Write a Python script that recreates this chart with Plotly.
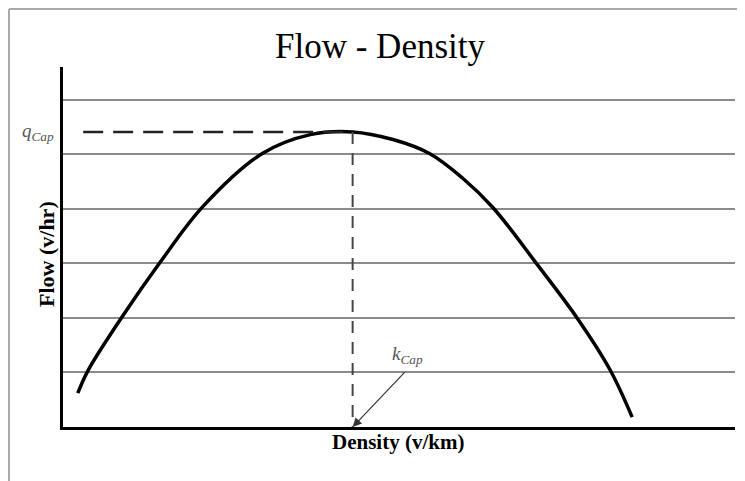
import plotly.graph_objects as go

# Data (density in arbitrary units, flow in arbitrary units)
density = [2.2, 3.7, 8.8, 14.4, 20.8, 29.6, 36.8, 43.1, 49.1, 54.6, 59.4, 64.0, 70.5, 76.5, 81.4, 84.7]
flow = [0.62, 1.03, 2.02, 3.01, 4.04, 5.01, 5.36, 5.41, 5.27, 5.01, 4.57, 4.02, 2.99, 2.00, 1.05, 0.18]
grid_ticks = [1, 2, 3, 4, 5, 6]

q_cap = max(flow)
k_cap = density[flow.index(q_cap)]

W, H = 745, 481
OFF = 8  # page body margin offset
# plot area in reference-page pixels: x 63..735, y 67..427
L = 63 - OFF
T = 67 - OFF
R = W - (735 - OFF)
B = H - (427 - OFF)
PW = W - L - R
PH = H - T - B

def px_x(p):
    return (p - OFF - L) / PW

def px_y(p):
    return (H - B - (p - OFF)) / PH

serif = "Liberation Serif, Times New Roman, serif"

fig = go.Figure()
fig.add_trace(go.Scatter(x=density, y=flow, mode="lines",
                         line=dict(color="black", width=3.5, shape="spline", smoothing=1.0),
                         showlegend=False, hoverinfo="skip"))

# Capacity dashed lines
fig.add_trace(go.Scatter(x=[3.0, k_cap], y=[q_cap, q_cap], mode="lines",
                         line=dict(color="#222", width=2.5, dash="20px,10px"), showlegend=False, hoverinfo="skip"))
fig.add_trace(go.Scatter(x=[k_cap, k_cap], y=[q_cap, 0], mode="lines",
                         line=dict(color="#444", width=2, dash="12px,9px"), showlegend=False, hoverinfo="skip"))

fig.update_layout(
    width=W, height=H,
    margin=dict(l=L, r=R, t=T, b=B, autoexpand=False),
    paper_bgcolor="white", plot_bgcolor="white",
    xaxis=dict(range=[0, 100], showgrid=False, zeroline=False, showticklabels=False, ticks="",
               showline=True, linecolor="black", linewidth=3, automargin=False),
    yaxis=dict(range=[0, 6.6], tickvals=grid_ticks, showgrid=True, gridcolor="#8a8a8a", gridwidth=2,
               zeroline=False, showticklabels=False, ticks="", automargin=False,
               showline=True, linecolor="black", linewidth=2.5),
    shapes=[
        dict(type="line", xref="paper", yref="paper", x0=-L / PW + 1 / PW, x1=-L / PW + 1 / PW,
             y0=(H - B - 1) / PH, y1=px_y(500), line=dict(color="#aaa", width=2)),
        dict(type="line", xref="paper", yref="paper", x0=-L / PW + 1 / PW, x1=px_x(770),
             y0=(H - B - 1) / PH, y1=(H - B - 1) / PH, line=dict(color="#aaa", width=2)),
    ],
    annotations=[
        dict(text="Flow - Density", xref="paper", yref="paper", x=px_x(380), y=px_y(47),
             xanchor="center", yanchor="middle", showarrow=False,
             font=dict(family=serif, size=35, color="black")),
        dict(text="<b>Density (v/km)</b>", xref="paper", yref="paper", x=px_x(398), y=px_y(442),
             xanchor="center", yanchor="middle", showarrow=False,
             font=dict(family=serif, size=21, color="black")),
        dict(text="<b>Flow (v/hr)</b>", xref="paper", yref="paper", x=px_x(47), y=px_y(254),
             xanchor="center", yanchor="middle", showarrow=False, textangle=-90,
             font=dict(family=serif, size=22, color="black")),
        dict(text="<i>q</i><sub><i>Cap</i></sub>", xref="paper", yref="y", x=px_x(56), y=q_cap,
             xanchor="right", yanchor="middle", showarrow=False,
             font=dict(family=serif, size=19, color="#555")),
        dict(text="<i>k</i><sub><i>Cap</i></sub>", xref="x", yref="y", x=(407 - 63) / 672 * 100, y=1.03,
             xanchor="center", yanchor="bottom", showarrow=False, yshift=2,
             font=dict(family=serif, size=19, color="#555")),
        dict(text="", x=k_cap, y=0, xref="x", yref="y", ax=(406 - 63) / 672 * 100, ay=1.03, axref="x", ayref="y",
             showarrow=True, arrowhead=2, arrowsize=1.5, arrowwidth=1.2, arrowcolor="#333"),
    ],
)

fig.write_html("out.html")
